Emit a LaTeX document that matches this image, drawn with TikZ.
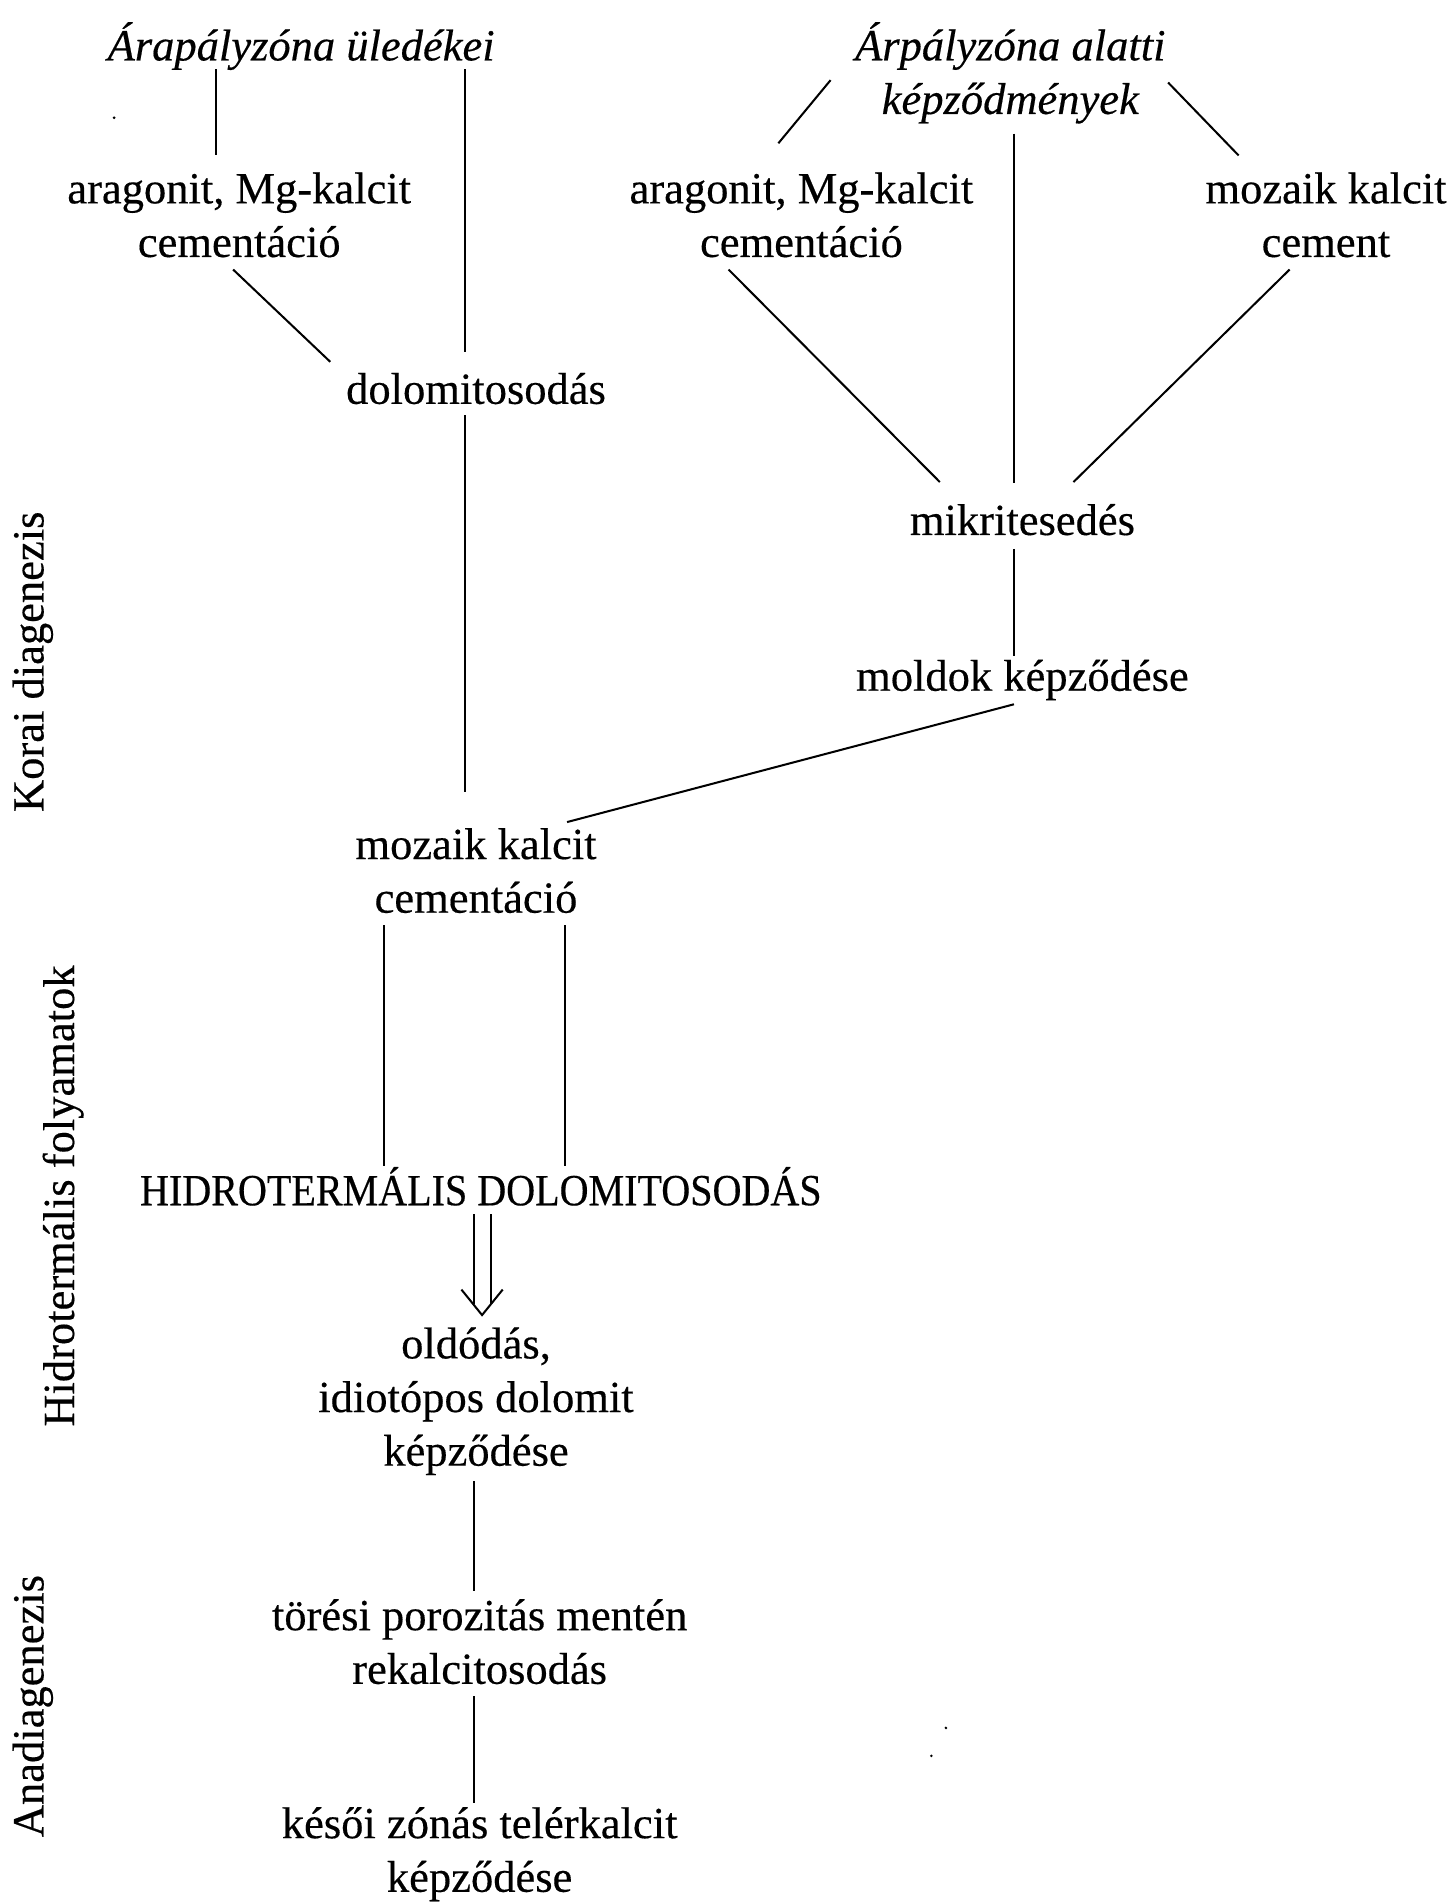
\documentclass[tikz,border=0pt]{standalone}
\usepackage{fontspec}
\setmainfont{Liberation Serif}[FakeBold=0.35]
\newfontfamily\capsfont{Liberation Serif}[FakeStretch=0.9,FakeBold=0.35]
\usetikzlibrary{calc}
\begin{document}
\begin{tikzpicture}[x=0.6pt,y=-0.6pt,
  lbl/.style={inner sep=0pt, align=center, font=\fontsize{22}{26.5}\selectfont},
  conn/.style={line width=1pt}]
\useasboundingbox (0,0) rectangle (1197,1568);
% nodes
\node[lbl] (tL) at (248,38) {\itshape Árapályzóna üledékei};
\node[lbl] (tR) at (832,60) {\itshape Árpályzóna alatti\\\itshape képződmények};
\node[lbl] (aL) at (197,177) {aragonit, Mg-kalcit\\cementáció};
\node[lbl] (aR) at (660,177) {aragonit, Mg-kalcit\\cementáció};
\node[lbl] (mR) at (1092,177) {mozaik kalcit\\cement};
\node[lbl] (dol) at (392,320) {dolomitosodás};
\node[lbl] (mik) at (842,428) {mikritesedés};
\node[lbl] (mol) at (842,560) {moldok képződése};
\node[lbl] (moz) at (392,717) {mozaik kalcit\\cementáció};
\node[lbl] (hid) at (396,977) {\capsfont HIDROTERMÁLIS DOLOMITOSODÁS};
\node[lbl] (old) at (392,1154) {oldódás,\\idiotópos dolomit\\képződése};
\node[lbl] (tor) at (395,1352) {törési porozitás mentén\\rekalcitosodás};
\node[lbl] (kes) at (395,1527) {késői zónás telérkalcit\\képződése};
\node[lbl,rotate=90] (kor) at (27,545) {Korai diagenezis};
\node[lbl,rotate=90] (hf) at (52,985) {Hidrotermális folyamatok};
\node[lbl,rotate=90] (ana) at (27,1405) {Anadiagenezis};
% connectors
\draw[conn] ($(tL)+(-70,19)$) -- ($(aL)+(-19,-49)$);
\draw[conn] ($(tL)+(135,19)$) -- ($(dol)+(-9,-30)$);
\draw[conn] ($(aL)+(-5,45)$) -- ($(dol)+(-120,-22)$);
\draw[conn] ($(dol)+(-9,22)$) -- ($(moz)+(-9,-65)$);
\draw[conn] ($(tR)+(-148,6)$) -- ($(aR)+(-19,-59)$);
\draw[conn] ($(tR)+(3,50)$) -- ($(mik)+(-7,-30)$);
\draw[conn] ($(tR)+(130,8)$) -- ($(mR)+(-72,-49)$);
\draw[conn] ($(aR)+(-60,45)$) -- ($(mik)+(-68,-31)$);
\draw[conn] ($(mR)+(-30,45)$) -- ($(mik)+(42,-31)$);
\draw[conn] ($(mik)+(-7,24)$) -- ($(mol)+(-7,-20)$);
\draw[conn] ($(mol)+(-7,20)$) -- ($(moz)+(75,-40)$);
\draw[conn] ($(moz)+(-76,45)$) -- ($(hid)+(-80,-17)$);
\draw[conn] ($(moz)+(73,45)$) -- ($(hid)+(69,-17)$);
\draw[conn] ($(hid)+(-6,23)$) -- ($(old)+(-2,-80)$);
\draw[conn] ($(hid)+(8,23)$) -- ($(old)+(12,-80)$);
\draw[conn] ($(old)+(-12,-92)$) -- ($(old)+(5,-71)$) -- ($(old)+(22,-92)$);
\draw[conn] ($(old)+(-2,66)$) -- ($(tor)+(-5,-42)$);
\draw[conn] ($(tor)+(-5,45)$) -- ($(kes)+(-5,-42)$);
% specks
\fill (94,97) circle (1.2);
\fill (779,1423) circle (1.2);
\fill (767,1446) circle (1.2);
\end{tikzpicture}
\end{document}
